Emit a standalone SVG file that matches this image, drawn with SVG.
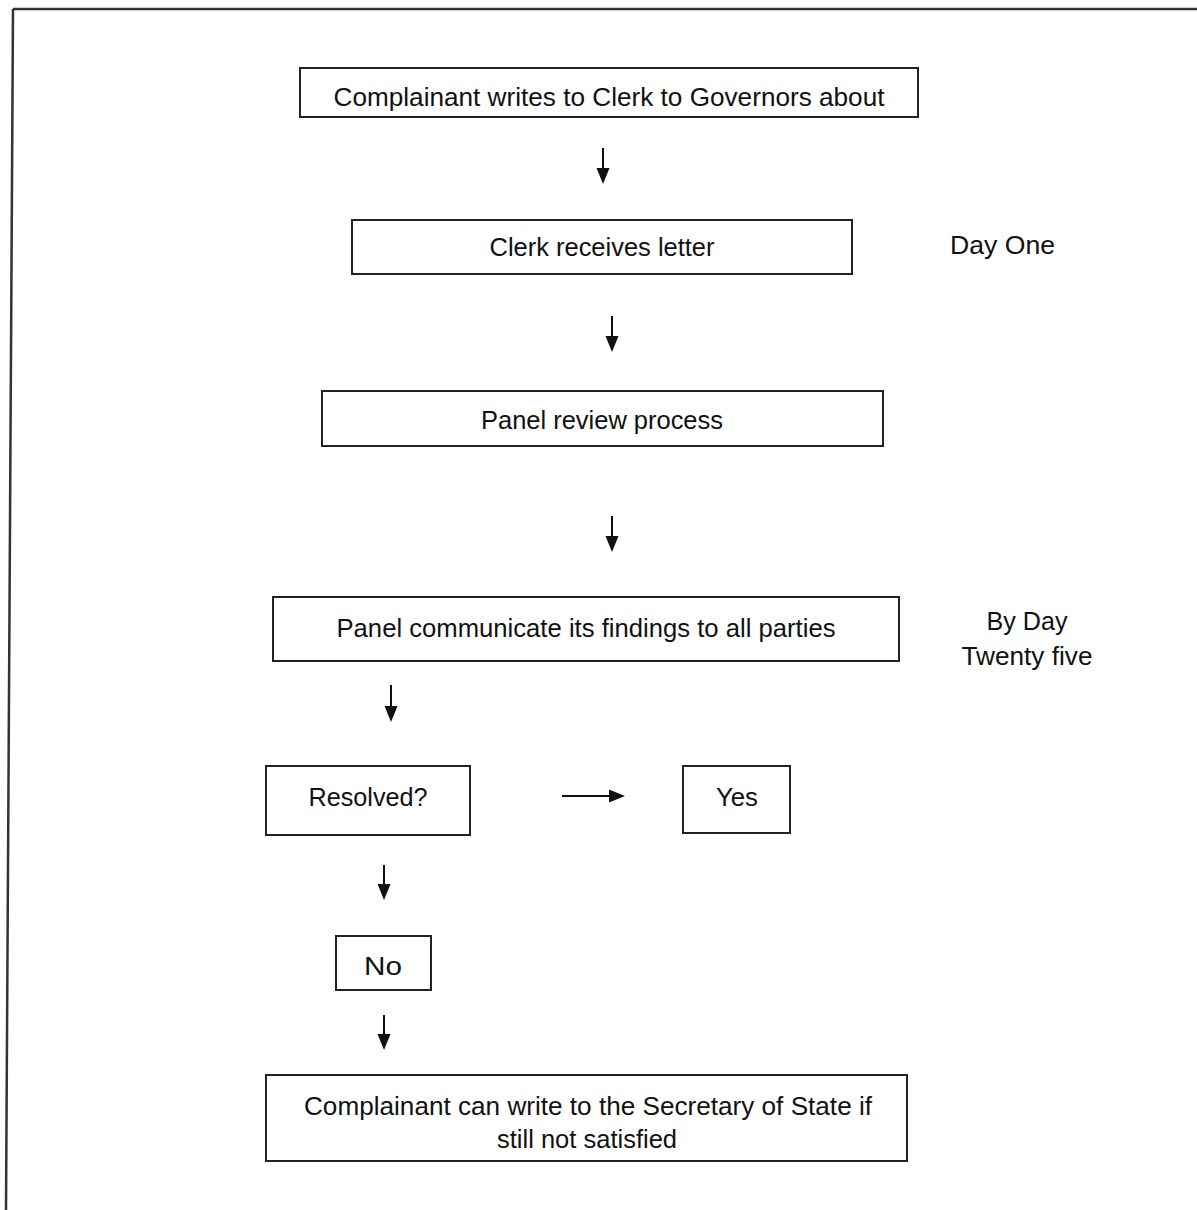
<svg xmlns="http://www.w3.org/2000/svg" width="1197" height="1210" viewBox="0 0 1197 1210">
<style>
.box{fill:#fff;stroke:#222;stroke-width:2}
.t{font-family:"Liberation Sans",Arial,sans-serif;font-size:26px;fill:#111}
.c{stroke:#111;stroke-width:2;fill:none}
.frame{stroke:#333;stroke-width:2.5;fill:none}
</style>
<defs>
<marker id="ah" markerUnits="userSpaceOnUse" markerWidth="16" markerHeight="16" refX="0" refY="6.5" orient="auto" viewBox="0 0 16 13">
<path d="M0,0 L16,6.5 L0,13 z" fill="#111"/>
</marker>
</defs>
<rect width="1197" height="1210" fill="#fff"/>
<path class="frame" d="M13,9 L1197,9 M13,9 L6,1210"/>
<g id="n1"><rect class="box" x="300" y="68" width="618" height="49"/><text class="t" x="609" y="106" text-anchor="middle" textLength="551" lengthAdjust="spacingAndGlyphs">Complainant writes to Clerk to Governors about</text></g>
<g id="n2"><rect class="box" x="352" y="220" width="500" height="54"/><text class="t" x="602" y="256" text-anchor="middle" textLength="225" lengthAdjust="spacingAndGlyphs">Clerk receives letter</text></g>
<g id="l1"><text class="t" x="950" y="254" textLength="105" lengthAdjust="spacingAndGlyphs">Day One</text></g>
<g id="n3"><rect class="box" x="322" y="391" width="561" height="55"/><text class="t" x="602" y="429" text-anchor="middle" textLength="242" lengthAdjust="spacingAndGlyphs">Panel review process</text></g>
<g id="n4"><rect class="box" x="273" y="597" width="626" height="64"/><text class="t" x="586" y="637" text-anchor="middle" textLength="499" lengthAdjust="spacingAndGlyphs">Panel communicate its findings to all parties</text></g>
<g id="l2"><text class="t" x="1027" y="630" text-anchor="middle" textLength="81" lengthAdjust="spacingAndGlyphs">By Day</text><text class="t" x="1027" y="665" text-anchor="middle" textLength="131" lengthAdjust="spacingAndGlyphs">Twenty five</text></g>
<g id="n5"><rect class="box" x="266" y="766" width="204" height="69"/><text class="t" x="368" y="806" text-anchor="middle" textLength="119" lengthAdjust="spacingAndGlyphs">Resolved?</text></g>
<g id="n6"><rect class="box" x="683" y="766" width="107" height="67"/><text class="t" x="737" y="806" text-anchor="middle" textLength="42" lengthAdjust="spacingAndGlyphs">Yes</text></g>
<g id="n7"><rect class="box" x="336" y="936" width="95" height="54"/><text class="t" x="383" y="975" text-anchor="middle" textLength="38" lengthAdjust="spacingAndGlyphs">No</text></g>
<g id="n8"><rect class="box" x="266" y="1075" width="641" height="86"/><text class="t" x="588" y="1115" text-anchor="middle" textLength="568" lengthAdjust="spacingAndGlyphs">Complainant can write to the Secretary of State if</text><text class="t" x="587" y="1148" text-anchor="middle" textLength="180" lengthAdjust="spacingAndGlyphs">still not satisfied</text></g>
<g id="connectors">
<line class="c" x1="603" y1="148" x2="603" y2="168" marker-end="url(#ah)"/>
<line class="c" x1="612" y1="316" x2="612" y2="336" marker-end="url(#ah)"/>
<line class="c" x1="612" y1="516" x2="612" y2="536" marker-end="url(#ah)"/>
<line class="c" x1="391" y1="685" x2="391" y2="706" marker-end="url(#ah)"/>
<line class="c" x1="562" y1="796" x2="609" y2="796" marker-end="url(#ah)"/>
<line class="c" x1="384" y1="865" x2="384" y2="884" marker-end="url(#ah)"/>
<line class="c" x1="384" y1="1015" x2="384" y2="1034" marker-end="url(#ah)"/>
</g>
</svg>
